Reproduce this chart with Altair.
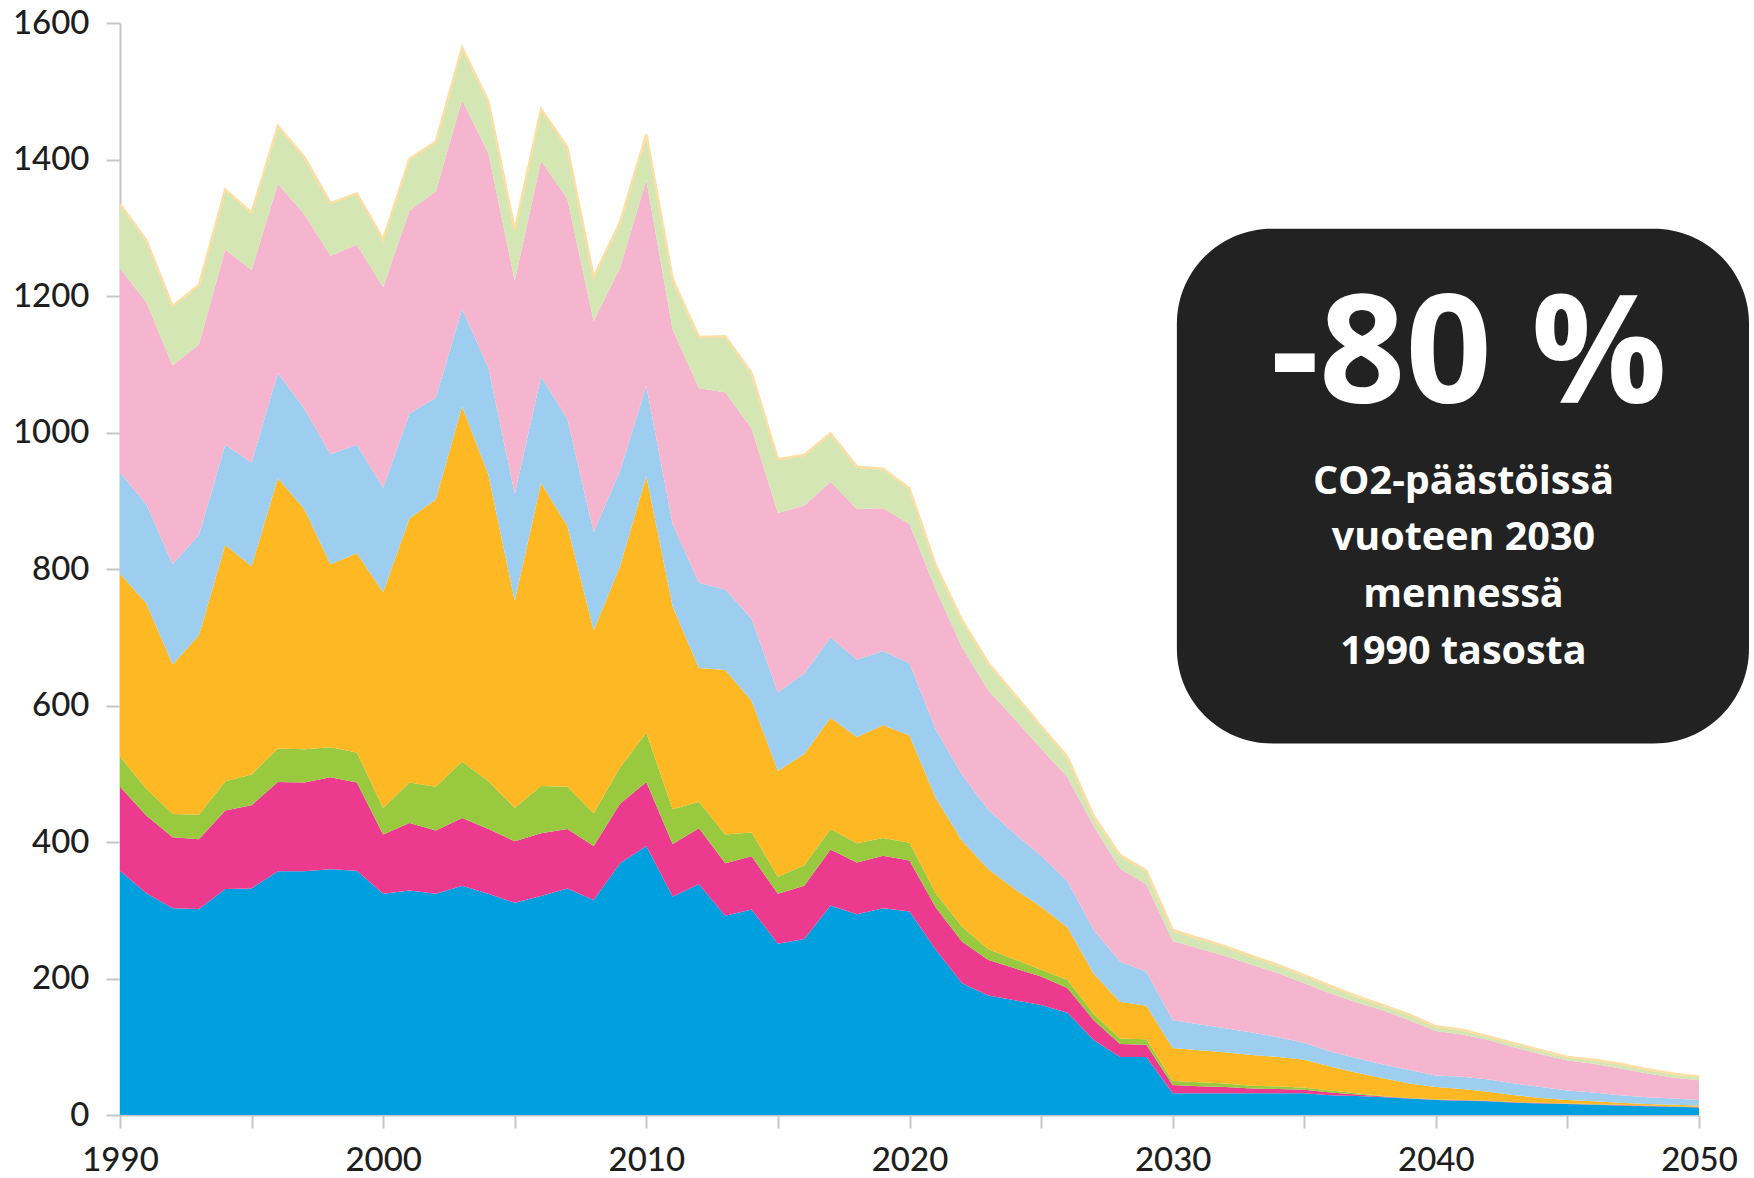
import altair as alt
import pandas as pd

# Years of the emission series (history + path to 2050)
years = list(range(1990, 2051))

# Emission layers, stacked from the bottom up
kerros_1 = [358, 325, 303, 302, 331, 332, 357, 357, 360, 358,
            324, 329, 324, 336, 324, 311, 321, 332, 315, 369,
            394, 320, 338, 292, 301, 251, 258, 307, 294, 303,
            298, 242, 193, 175, 168, 161, 150, 110, 85, 85,
            32, 32, 32, 32, 32, 32, 29, 28, 26, 24,
            22, 21, 20, 18, 17, 16, 15, 14, 13, 12,
            11]
kerros_2 = [123, 114, 104, 102, 115, 122, 131, 130, 135, 129,
            87, 99, 93, 99, 95, 90, 92, 87, 79, 87,
            94, 77, 82, 77, 78, 73, 78, 82, 76, 77,
            75, 62, 61, 52, 47, 42, 36, 29, 19, 18,
            12, 10, 9, 7, 6, 5, 4, 2, 1, 0.5,
            0.5, 0.5, 0.5, 0.5, 0.5, 0.5, 0.5, 0.5, 0.5, 0.5,
            0.5]
kerros_3 = [44, 39, 34, 36, 43, 45, 49, 49, 44, 44,
            39, 59, 64, 83, 70, 49, 69, 62, 48, 53,
            72, 51, 39, 42, 35, 25, 30, 30, 28, 26,
            26, 21, 22, 16, 13, 10, 12, 9, 8, 8,
            6, 6, 5, 4, 4, 3, 3, 2, 1, 0.5,
            0.5, 0.5, 0.5, 0.5, 0.5, 0.5, 0.5, 0.5, 0.5, 0.5,
            0.5]
kerros_4 = [268, 272, 219, 263, 346, 305, 396, 352, 268, 292,
            316, 387, 421, 520, 449, 303, 444, 382, 268, 295,
            376, 297, 196, 241, 193, 155, 163, 163, 156, 165,
            157, 139, 126, 117, 103, 92, 77, 59, 54, 49,
            48, 47, 46, 45, 43, 41, 35, 30, 26, 21,
            18, 16, 13, 10, 7, 5, 4, 3, 2, 2,
            2]
kerros_5 = [148, 145, 147, 147, 147, 152, 154, 147, 161, 159,
            153, 154, 149, 143, 157, 157, 156, 157, 144, 140,
            132, 121, 125, 118, 120, 115, 118, 118, 113, 109,
            106, 101, 96, 87, 81, 75, 68, 64, 59, 50,
            41, 38, 35, 33, 29, 25, 22, 21, 20, 20,
            17, 18, 18, 17, 16, 14, 13, 11, 10, 9,
            8]
kerros_6 = [300, 296, 291, 279, 286, 282, 277, 285, 291, 293,
            294, 297, 302, 306, 314, 312, 316, 322, 309, 297,
            302, 285, 285, 289, 279, 263, 246, 228, 221, 209,
            204, 205, 187, 175, 168, 157, 152, 152, 136, 128,
            116, 111, 106, 99, 94, 87, 85, 82, 79, 73,
            65, 62, 58, 53, 48, 44, 42, 39, 35, 31,
            29]
kerros_7 = [94, 91, 87, 87, 88, 84, 85, 84, 77, 75,
            70, 76, 73, 77, 76, 75, 76, 76, 65, 67,
            67, 74, 75, 82, 81, 79, 74, 71, 62, 58,
            52, 35, 40, 40, 36, 33, 30, 15, 20, 20,
            16, 15, 14, 13, 12, 12, 11, 9, 8, 8,
            7, 7, 5, 6, 6, 5, 6, 7, 6, 6,
            5]

layer_names = ["kerros 1", "kerros 2", "kerros 3", "kerros 4",
               "kerros 5", "kerros 6", "kerros 7"]
layer_values = [kerros_1, kerros_2, kerros_3, kerros_4,
                kerros_5, kerros_6, kerros_7]
layer_colors = ["#00A0DF", "#EC3B8F", "#98C93F", "#FDB823",
                "#9DCEEF", "#F6B5CE", "#D3E6B3"]
edge_color = "#FDDFA6"

# Axis ticks and labels
x_ticks = [1990, 1995, 2000, 2005, 2010, 2015, 2020, 2025, 2030, 2035, 2040, 2045, 2050]
y_ticks = [0, 200, 400, 600, 800, 1000, 1200, 1400, 1600]

# Annotation box text
box_lines = ["-80 %", "CO2-päästöissä", "vuoteen 2030", "mennessä", "1990 tasosta"]
box_line_sizes = [151, 39.5, 39.5, 39.5, 39.5]
box_line_x = [2041.25, 2041.05, 2041.05, 2041.05, 2041.05]
box_line_y = [1043, 910, 828, 745, 661]

rows = []
for i, (name, vals) in enumerate(zip(layer_names, layer_values)):
    for yr, v in zip(years, vals):
        rows.append({"vuosi": yr, "sarja": name, "kerros": i, "arvo": v})
df = pd.DataFrame(rows)

x_scale = alt.Scale(domain=[1990, 2050], nice=False, zero=False)
y_scale = alt.Scale(domain=[0, 1600], nice=False)

# One axis definition shared by every layer so the merged axes stay intact
x_axis = alt.Axis(values=x_ticks,
                  labelExpr="datum.value % 10 == 0 ? datum.value : ''",
                  tickSize=13, labelPadding=16, labelFlush=False,
                  labelOverlap=False, grid=False, title=None)
y_axis = alt.Axis(values=y_ticks, format="d", tickSize=14, labelPadding=17,
                  grid=False, labelOverlap=False, title=None)

areas = alt.Chart(df).mark_area(interpolate="linear").encode(
    x=alt.X("vuosi:Q", scale=x_scale, axis=x_axis),
    y=alt.Y("arvo:Q", stack="zero", scale=y_scale, axis=y_axis),
    color=alt.Color("sarja:N", scale=alt.Scale(domain=layer_names, range=layer_colors),
                    legend=None),
    order=alt.Order("kerros:Q", sort="ascending"),
)

# Thin pale edge along the top of the stack
edge = alt.Chart(df).transform_aggregate(
    total="sum(arvo)", groupby=["vuosi"]
).mark_line(color=edge_color, strokeWidth=2.5).encode(
    x=alt.X("vuosi:Q", scale=x_scale, axis=x_axis),
    y=alt.Y("total:Q", scale=y_scale, axis=y_axis),
)

box_df = pd.DataFrame({"x0": [2030.16], "x1": [2051.9], "y0": [1298.6], "y1": [544.5]})
box = alt.Chart(box_df).mark_rect(color="#222222", cornerRadius=95).encode(
    x=alt.X("x0:Q", scale=x_scale, axis=x_axis),
    x2="x1",
    y=alt.Y("y0:Q", scale=y_scale, axis=y_axis),
    y2="y1",
)

text_df = pd.DataFrame({"x": box_line_x, "y": box_line_y, "t": box_lines,
                        "fs": box_line_sizes})
texts = alt.Chart(text_df).mark_text(
    font="Open Sans", fontWeight="bold", color="#FFFFFF",
    align="center", baseline="alphabetic",
).encode(
    x=alt.X("x:Q", scale=x_scale, axis=x_axis),
    y=alt.Y("y:Q", scale=y_scale, axis=y_axis),
    text="t:N",
    size=alt.Size("fs:Q", scale=None, legend=None),
)

chart = alt.layer(areas, edge, box, texts).properties(
    width=1579, height=1092,
    padding={"left": 120, "top": 23, "right": 55, "bottom": 63},
    autosize=alt.AutoSizeParams(type="none"),
    background="#FFFFFF",
).configure_view(stroke=None).configure_axis(
    labelFont="Lato", labelFontSize=33, labelFontWeight=500, labelColor="#1E1E1E",
    domainColor="#C6C6C6", tickColor="#C6C6C6", domainWidth=2, tickWidth=2,
)

chart.save("out.html", embed_options={"renderer": "svg", "actions": False})
